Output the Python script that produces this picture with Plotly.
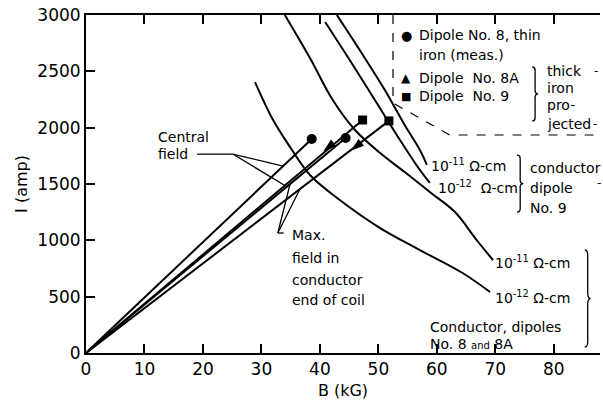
import plotly.graph_objects as go

# ---------------- data ----------------
# operating points, central field (Dipole 8 circle, Dipole 9 square)
central_B = [38.6, 47.3]
central_I = [1900, 2068]
# operating points, max. field in conductor end of coil
max_B = [44.4, 51.8]
max_I = [1908, 2060]
# Dipole 8A (arrowhead tips) projected points
d8a_B = [40.6, 45.3]
d8a_I = [1790, 1795]

# resistivity-limit curves, conductor dipoles No. 8 and 8A
c8_e11_B = [34.0, 38.3, 42.2, 46.0, 50.3, 54.5, 58.8, 63.1, 66.8, 69.6]
c8_e11_I = [3000, 2618, 2245, 1979, 1775, 1606, 1429, 1251, 1003, 825]
c8_e12_B = [28.9, 32.0, 34.9, 38.3, 43.4, 50.3, 57.1, 64.4, 69.1]
c8_e12_I = [2405, 2068, 1828, 1580, 1358, 1109, 914, 710, 541]
# resistivity-limit curves, conductor dipole No. 9
c9_e11_B = [42.9, 46.8, 51.1, 54.5, 57.1, 58.3]
c9_e11_I = [3000, 2689, 2334, 2024, 1802, 1669]
c9_e12_B = [40.9, 45.1, 49.4, 53.7, 57.1, 58.8]
c9_e12_I = [2938, 2600, 2245, 1890, 1624, 1509]

x_ticks = [0, 10, 20, 30, 40, 50, 60, 70, 80]
y_ticks = [0, 500, 1000, 1500, 2000, 2500, 3000]

FONT = "DejaVu Sans"
LW = 2.0

fig = go.Figure()

# straight load lines from origin
for B, I in zip(central_B + max_B, central_I + max_I):
    fig.add_trace(go.Scatter(x=[0, B], y=[0, I], mode="lines",
                             line=dict(color="black", width=LW), showlegend=False))

# resistivity curves
for xs, ys in [(c8_e11_B, c8_e11_I), (c8_e12_B, c8_e12_I),
               (c9_e11_B, c9_e11_I), (c9_e12_B, c9_e12_I)]:
    fig.add_trace(go.Scatter(x=xs, y=ys, mode="lines", line_shape="spline",
                             line=dict(color="black", width=LW, smoothing=1.0),
                             showlegend=False))

# markers
fig.add_trace(go.Scatter(x=[central_B[0], max_B[0]], y=[central_I[0], max_I[0]],
                         mode="markers", marker=dict(symbol="circle", size=10, color="black"),
                         showlegend=False))
fig.add_trace(go.Scatter(x=[central_B[1], max_B[1]], y=[central_I[1], max_I[1]],
                         mode="markers", marker=dict(symbol="square", size=9, color="black"),
                         showlegend=False))
fig.add_trace(go.Scatter(x=d8a_B, y=d8a_I, mode="markers",
                         marker=dict(symbol="arrow", size=14, color="black", angle=231),
                         showlegend=False))

# ---------------- leader lines (pointing onto the data lines) ----------------
shapes = []

def on_line(Bend, Iend, B):
    return B, Iend / Bend * B

def leader(x0, y0, x1, y1):
    shapes.append(dict(type="line", xref="x", yref="y", x0=x0, y0=y0, x1=x1, y1=y1,
                       line=dict(color="black", width=1.3)))

# Central field leaders
jx, jy = 25.1, 1766
leader(19.0, 1766, jx, jy)
tx, ty = on_line(central_B[0], central_I[0], 33.7)
leader(jx, jy, tx, ty)
tx, ty = on_line(central_B[1], central_I[1], 34.0)
leader(jx, jy, tx, ty)
# Max field leaders
mx, my = 32.8, 1065
leader(33.8, 1065, mx, my)
tx, ty = on_line(max_B[0], max_I[0], 34.9)
leader(mx, my, tx, ty)
tx, ty = on_line(max_B[1], max_I[1], 36.6)
leader(mx, my, tx, ty)

ann = []
def txt(x, y, s, size=14, xanchor="left"):
    ann.append(dict(x=x, y=y, xref="x", yref="y", text=s, showarrow=False,
                    xanchor=xanchor, yanchor="middle", align="left",
                    font=dict(family=FONT, size=size, color="black")))

txt(11.9, 1917, "Central")
txt(11.9, 1766, "field")
txt(34.9, 1047, "Max.")
txt(34.9, 842, "field in")
txt(34.9, 648, "conductor")
txt(34.9, 470, "end of coil")

txt(58.7, 1669, "10<sup>-11</sup> Ω-cm")
txt(59.8, 1470, "10<sup>-12</sup>  Ω-cm")
txt(75.6, 1642, "conductor")
txt(75.6, 1465, "dipole")
txt(75.6, 1287, "No. 9")

txt(69.6, 807, "10<sup>-11</sup> Ω-cm")
txt(69.6, 497, "10<sup>-12</sup> Ω-cm")
txt(58.5, 230, "Conductor, dipoles")
txt(58.5, 80, "No. 8 <span style='font-size:10px'>and</span> 8A")

# legend block text
txt(53.5, 2822, "●", size=13)
txt(56.6, 2822, "Dipole No. 8, thin")
txt(56.6, 2645, "iron (meas.)")
txt(53.5, 2440, "▲", size=12)
txt(56.6, 2440, "Dipole  No. 8A")
txt(53.5, 2280, "■", size=11)
txt(56.6, 2280, "Dipole  No. 9")
txt(78.5, 2500, "thick")
txt(78.5, 2352, "iron")
txt(78.5, 2200, "pro-")
txt(78.5, 2032, "jected")
txt(86.6, 2500, "-", size=12)
txt(86.3, 2032, "-", size=12)
txt(87.0, 1509, "-", size=12)

# ---------------- shapes: legend frame, braces ----------------
shapes.append(dict(type="path", xref="x", yref="y",
                   path="M 52.5,3000 L 52.5,2219 L 62.2,1935 L 88,1935",
                   line=dict(color="black", width=1.2, dash="dash")))

def brace(x0, x1, yt, yb):
    xm = (x0 + x1) / 2
    ym = (yt + yb) / 2
    d = (yt - yb) * 0.06
    p = (f"M {x0},{yt} Q {xm},{yt} {xm},{yt-d} L {xm},{ym+d} Q {xm},{ym} {x1},{ym} "
         f"Q {xm},{ym} {xm},{ym-d} L {xm},{yb+d} Q {xm},{yb} {x0},{yb}")
    shapes.append(dict(type="path", xref="x", yref="y", path=p,
                       line=dict(color="black", width=1.3)))

brace(76.3, 77.3, 2540, 2060)
brace(73.7, 74.8, 1757, 1251)
brace(85.3, 86.3, 914, 53)

fig.update_layout(
    width=603, height=401,
    margin=dict(l=86, r=3, t=15, b=48),
    paper_bgcolor="white", plot_bgcolor="white",
    font=dict(family=FONT, color="black"),
    annotations=ann, shapes=shapes,
    xaxis=dict(range=[0, 87.9], tickvals=x_ticks, ticks="inside", ticklen=9, tickwidth=2,
               tickcolor="black", showline=True, linewidth=2, linecolor="black",
               mirror="ticks", showgrid=False, zeroline=False, automargin=False,
               tickfont=dict(family=FONT, size=17),
               title=dict(text="B (kG)", font=dict(family=FONT, size=16), standoff=6)),
    yaxis=dict(range=[0, 3000], tickvals=y_ticks, ticks="inside", ticklen=9, tickwidth=2,
               tickcolor="black", showline=True, linewidth=2, linecolor="black",
               showgrid=False, zeroline=False, automargin=False,
               tickfont=dict(family=FONT, size=17),
               title=dict(text="I (amp)", font=dict(family=FONT, size=16), standoff=6)),
)

fig.write_html("out.html", config={"displayModeBar": False},
               post_script="document.body.style.margin='0';document.body.style.padding='0';")
